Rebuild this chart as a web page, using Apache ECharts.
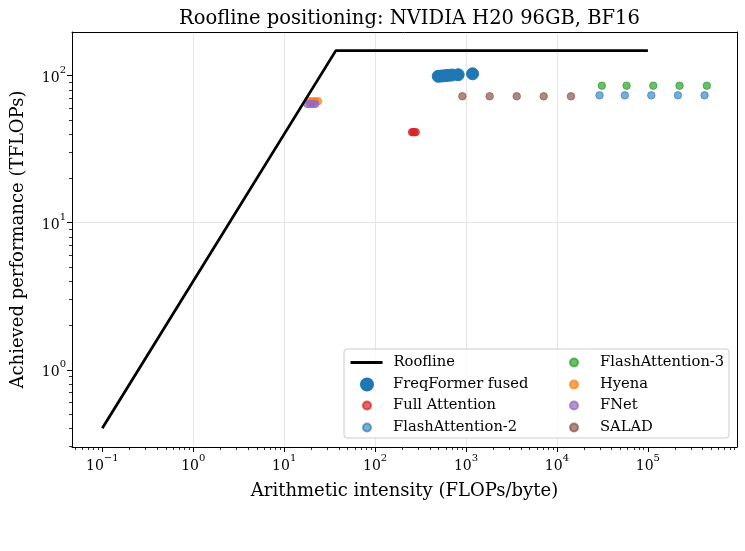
<!DOCTYPE html>
<html><head><meta charset="utf-8">
<script src="https://cdn.jsdelivr.net/npm/echarts@6/dist/echarts.min.js"></script>
<style>html,body{margin:0;padding:0;background:#fff}#c{width:745px;height:551px}</style>
</head><body><div id="c"></div>
<script>
// ---- data ----
const rooflineX = [0.1, 37, 100000];
const rooflineY = [0.4, 148, 148];
const freqX = [495, 540, 590, 640, 700, 820, 1180];
const freqY = [99, 99.5, 100, 100.5, 101, 101.5, 103];
const fullX = [255, 262, 270, 280];
const fullY = [41.3, 41.3, 41.3, 41.3];
const fa2X = [29400, 55800, 109000, 214000, 420000];
const fa2Y = [73.5, 73.5, 73.5, 73.5, 73.5];
const fa3X = [31200, 58300, 114600, 223000, 445000];
const fa3Y = [85.5, 85.5, 85.5, 85.5, 85.5];
const hyenaX = [19, 20.5, 22, 23.5];
const hyenaY = [67, 67, 67, 67];
const fnetX = [18, 19.3, 20.7, 22];
const fnetY = [64.3, 64.3, 64.3, 64.3];
const saladX = [912, 1820, 3610, 7150, 14260];
const saladY = [72.4, 72.4, 72.4, 72.4, 72.4];
const xTickExp = [-1, 0, 1, 2, 3, 4, 5];
const yTickExp = [0, 1, 2];

const FONT = 'DejaVu Serif';
const L = Math.log10;
const pts = (xs, ys) => xs.map((x, i) => [L(x), L(ys[i])]);

const xMin = -1.333, xMax = 5.98, yMin = -0.525, yMax = 2.297;
function minorList(lo, hi) {
  const out = [];
  for (let n = Math.floor(lo) - 1; n <= Math.ceil(hi); n++)
    for (let k = 2; k <= 9; k++) { const v = n + L(k); if (v > lo && v < hi) out.push(v); }
  return out;
}
const fmt = v => { const e = Math.round(v); return '{b|10}{s|' + (e < 0 ? '\u2212' + (-e) : e) + '}'; };
const rich = {
  b: { fontFamily: FONT, fontSize: 14, color: '#000', lineHeight: 20, verticalAlign: 'bottom' },
  s: { fontFamily: FONT, fontSize: 10, color: '#000', lineHeight: 12, verticalAlign: 'top' }
};
const rgba = (hex, a) => { const n = parseInt(hex.slice(1), 16); return `rgba(${n>>16},${(n>>8)&255},${n&255},${a})`; };

function scat(name, xs, ys, color, size, alpha) {
  return {
    name, type: 'scatter', data: pts(xs, ys), symbol: 'circle', symbolSize: size, z: 2,
    itemStyle: { color: rgba(color, alpha), borderColor: rgba(color, alpha), borderWidth: 1, opacity: 1 },
    emphasis: { disabled: true }, xAxisIndex: 0, yAxisIndex: 0
  };
}

const series = [
  { name: 'Roofline', type: 'line', data: pts(rooflineX, rooflineY), symbol: 'none', z: 4,
    lineStyle: { color: '#000', width: 2.8 }, itemStyle: { color: '#000' }, emphasis: { disabled: true } },
  scat('FreqFormer fused', freqX, freqY, '#1f77b4', 12, 1),
  scat('Full Attention', fullX, fullY, '#d62728', 7.5, 0.7),
  scat('FlashAttention-2', fa2X, fa2Y, '#1f77b4', 7.5, 0.6),
  scat('FlashAttention-3', fa3X, fa3Y, '#2ca02c', 7.5, 0.7),
  scat('Hyena', hyenaX, hyenaY, '#ff7f0e', 7.5, 0.7),
  scat('FNet', fnetX, fnetY, '#9467bd', 7.5, 0.7),
  scat('SALAD', saladX, saladY, '#8c564b', 7.5, 0.7)
];

// [name, icon centre x, row centre y, icon width, icon height, text start x]
const legendRows = [
  ['Roofline', 365, 361, 32, 3, 392], ['FreqFormer fused', 366, 383, 12, 12, 392],
  ['Full Attention', 366, 404, 8, 8, 392], ['FlashAttention-2', 366, 426, 8, 8, 392],
  ['FlashAttention-3', 573, 361, 8, 8, 599], ['Hyena', 573, 383, 8, 8, 599],
  ['FNet', 573, 404, 8, 8, 599], ['SALAD', 573, 426, 8, 8, 599]
];
const legends = legendRows.map(([name, cx, cy, w, h, tx]) => {
  const left = cx - w / 2;
  const pad = tx - (left + w + 5);
  return {
    data: [name], left, top: cy - 7.5, itemWidth: w, itemHeight: h, padding: 0, selectedMode: false, z: 6,
    lineStyle: { width: 3 },
    formatter: n => '{p|' + n + '}',
    textStyle: { fontFamily: FONT, fontSize: 14.7, color: '#000', lineHeight: 18,
      rich: { p: { fontFamily: FONT, fontSize: 14.7, color: '#000', lineHeight: 18, padding: [0, 0, 0, pad] } } }
  };
});

const baseAxis = { type: 'value', gridIndex: 0, silent: true };
const chart = echarts.init(document.getElementById('c'), null, { renderer: 'canvas' });
chart.setOption({
  animation: false,
  backgroundColor: '#fff',
  title: { text: 'Roofline positioning: NVIDIA H20 96GB, BF16', left: 404.5, textAlign: 'center', top: 4,
    textStyle: { fontFamily: FONT, fontSize: 19.5, fontWeight: 'normal', color: '#000' } },
  grid: { left: 72, top: 32, right: 8, bottom: 104, containLabel: false },
  legend: legends,
  graphic: [{ type: 'rect', z: 3, shape: { x: 344, y: 349, width: 385, height: 89, r: 3 },
    style: { fill: 'rgba(255,255,255,0.8)', stroke: '#cccccc', lineWidth: 1 } }],
  xAxis: [
    Object.assign({}, baseAxis, { min: xMin, max: xMax, splitNumber: 7, position: 'bottom', z: 1,
      axisLine: { show: false, onZero: false },
      axisTick: { show: true, customValues: xTickExp, length: 5, lineStyle: { color: '#000', width: 1 } },
      axisLabel: { customValues: xTickExp, formatter: fmt, rich, margin: 6 },
      splitLine: { show: true, showMinLine: false, showMaxLine: false, lineStyle: { color: '#e6e6e6', width: 1 } },
      name: 'Arithmetic intensity (FLOPs/byte)', nameLocation: 'middle', nameGap: 35,
      nameTextStyle: { fontFamily: FONT, fontSize: 18, color: '#000' } }),
    Object.assign({}, baseAxis, { min: xMin, max: xMax, position: 'bottom', z: 10,
      axisLine: { show: true, onZero: false, lineStyle: { color: '#000', width: 1 } },
      axisTick: { show: true, customValues: minorList(xMin, xMax), length: 3, lineStyle: { color: '#000', width: 0.8 } },
      axisLabel: { show: false }, splitLine: { show: false } }),
    Object.assign({}, baseAxis, { min: xMin, max: xMax, position: 'top', z: 10,
      axisLine: { show: true, onZero: false, lineStyle: { color: '#000', width: 1 } },
      axisTick: { show: false }, axisLabel: { show: false }, splitLine: { show: false } })
  ],
  yAxis: [
    Object.assign({}, baseAxis, { min: yMin, max: yMax, splitNumber: 3, position: 'left', z: 1,
      axisLine: { show: false, onZero: false },
      axisTick: { show: true, customValues: yTickExp, length: 5, lineStyle: { color: '#000', width: 1 } },
      axisLabel: { customValues: yTickExp, formatter: fmt, rich, margin: 6 },
      splitLine: { show: true, showMinLine: false, showMaxLine: false, lineStyle: { color: '#e6e6e6', width: 1 } },
      name: 'Achieved performance (TFLOPs)', nameLocation: 'middle', nameGap: 45,
      nameTextStyle: { fontFamily: FONT, fontSize: 18, color: '#000' } }),
    Object.assign({}, baseAxis, { min: yMin, max: yMax, position: 'left', z: 10,
      axisLine: { show: true, onZero: false, lineStyle: { color: '#000', width: 1 } },
      axisTick: { show: true, customValues: minorList(yMin, yMax), length: 3, lineStyle: { color: '#000', width: 0.8 } },
      axisLabel: { show: false }, splitLine: { show: false } }),
    Object.assign({}, baseAxis, { min: yMin, max: yMax, position: 'right', z: 10,
      axisLine: { show: true, onZero: false, lineStyle: { color: '#000', width: 1 } },
      axisTick: { show: false }, axisLabel: { show: false }, splitLine: { show: false } })
  ],
  series
});
</script></body></html>
